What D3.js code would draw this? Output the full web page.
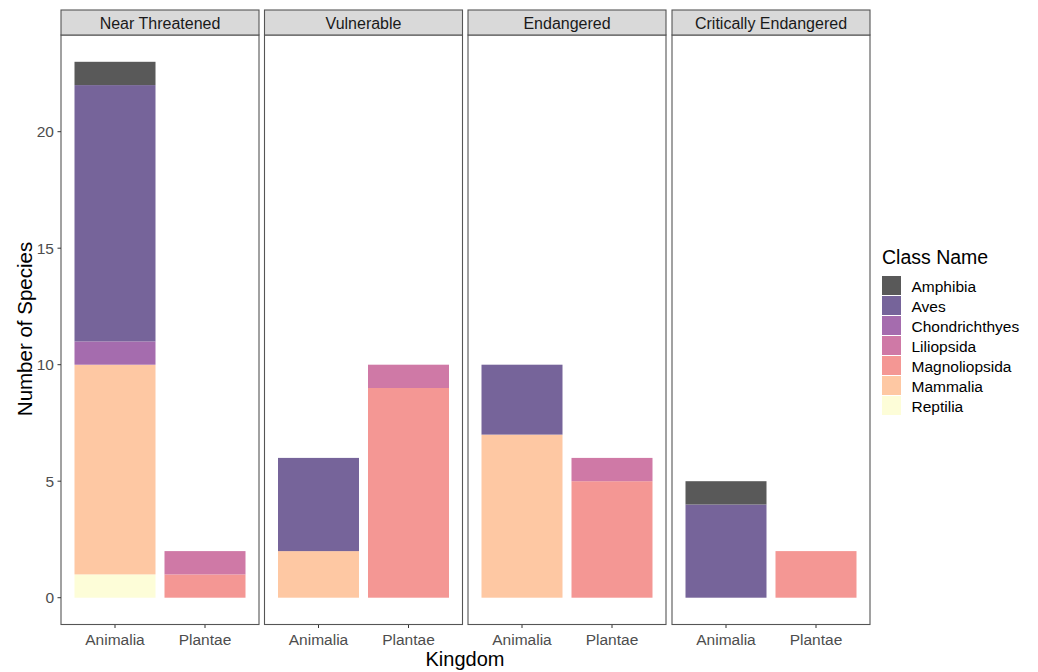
<!DOCTYPE html>
<html><head><meta charset="utf-8">
<script src="https://cdn.jsdelivr.net/npm/d3@7"></script>
<style>body{margin:0;background:#fff}svg{display:block;font-family:"Liberation Sans",Arial,sans-serif}</style>
</head><body><svg id="c" width="1038" height="672"></svg>
<script>
const statuses = ["Near Threatened","Vulnerable","Endangered","Critically Endangered"];
const kingdoms = ["Animalia","Plantae"];
const classes = ["Amphibia","Aves","Chondrichthyes","Liliopsida","Magnoliopsida","Mammalia","Reptilia"];
const classColors = ["#595959","#76649a","#a56cae","#cf79a6","#f49794","#fec8a3","#fdfdd8"];
// values per class, ordered: NT-Animalia, NT-Plantae, V-Animalia, V-Plantae, E-Animalia, E-Plantae, CE-Animalia, CE-Plantae
const amphibia       = [1,0, 0,0, 0,0, 1,0];
const aves           = [11,0, 4,0, 3,0, 4,0];
const chondrichthyes = [1,0, 0,0, 0,0, 0,0];
const liliopsida     = [0,1, 0,1, 0,1, 0,0];
const magnoliopsida  = [0,1, 0,9, 0,5, 0,2];
const mammalia       = [9,0, 2,0, 7,0, 0,0];
const reptilia       = [1,0, 0,0, 0,0, 0,0];
const yTicks = [0,5,10,15,20];

const valuesByClass = [amphibia,aves,chondrichthyes,liliopsida,magnoliopsida,mammalia,reptilia];
const svg = d3.select("#c");
const color = d3.scaleOrdinal().domain(classes).range(classColors);

const panelTop = 35, panelBottom = 624.5, stripTop = 10;
const panelLefts = [61,264.5,468,672], panelW = 198;
const y = d3.scaleLinear().domain([-1.15, 24.15]).range([panelBottom, panelTop]);

statuses.forEach((st, si) => {
  const left = panelLefts[si];
  const g = svg.append("g");
  // ggplot discrete axis: expansion 0.6 on each side, bar width 0.9
  const x = d3.scalePoint().domain(kingdoms).range([left + panelW*0.6/2.2, left + panelW*1.6/2.2]);
  const bw = panelW/2.2*0.9;
  kingdoms.forEach((k, ki) => {
    const idx = si*2 + ki;
    let base = 0;
    for (let c = classes.length-1; c >= 0; c--) {
      const v = valuesByClass[c][idx];
      if (!v) continue;
      g.append("rect").attr("x", x(k)-bw/2).attr("width", bw)
        .attr("y", y(base+v)).attr("height", y(base)-y(base+v))
        .attr("fill", color(classes[c]));
      base += v;
    }
    g.append("line").attr("x1", x(k)).attr("x2", x(k)).attr("y1", panelBottom).attr("y2", panelBottom+3.5)
      .attr("stroke","#333").attr("stroke-width",1);
    g.append("text").attr("x", x(k)).attr("y", panelBottom+20.5).attr("text-anchor","middle")
      .attr("font-size",15.5).attr("fill","#4d4d4d").text(k);
  });
  g.append("rect").attr("x", left).attr("y", panelTop).attr("width", panelW).attr("height", panelBottom-panelTop)
    .attr("fill","none").attr("stroke","#555").attr("stroke-width",1.1);
  g.append("rect").attr("x", left).attr("y", stripTop).attr("width", panelW).attr("height", panelTop-stripTop)
    .attr("fill","#d9d9d9").attr("stroke","#555").attr("stroke-width",1.1);
  g.append("text").attr("x", left+panelW/2).attr("y", stripTop+19).attr("text-anchor","middle")
    .attr("font-size",16).attr("fill","#1a1a1a").text(st);
});

// y axis
const yAxis = svg.append("g");
yTicks.forEach(t => {
  yAxis.append("line").attr("x1", 57.5).attr("x2", 61).attr("y1", y(t)).attr("y2", y(t)).attr("stroke","#333");
  yAxis.append("text").attr("x", 54).attr("y", y(t)+5.5).attr("text-anchor","end")
    .attr("font-size",15.5).attr("fill","#4d4d4d").text(t);
});

// axis titles
svg.append("text").attr("x", 465).attr("y", 666).attr("text-anchor","middle").attr("font-size",20).attr("fill","#000").text("Kingdom");
svg.append("text").attr("transform","translate(32,329) rotate(-90)").attr("text-anchor","middle").attr("font-size",20.5).attr("fill","#000").text("Number of Species");

// legend
const lg = svg.append("g");
lg.append("text").attr("x", 882).attr("y", 264).attr("font-size",19.5).attr("fill","#000").text("Class Name");
classes.forEach((c, i) => {
  lg.append("rect").attr("x", 882).attr("y", 276 + i*20).attr("width", 19).attr("height", 19).attr("fill", color(c));
  lg.append("text").attr("x", 911.5).attr("y", 276 + i*20 + 15.5).attr("font-size",15.5).attr("fill","#000").text(c);
});
</script></body></html>
